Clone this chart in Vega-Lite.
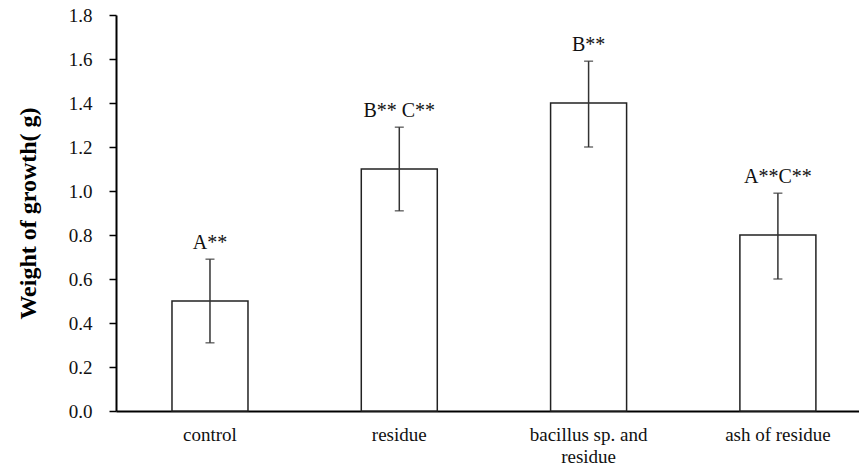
{
  "$schema": "https://vega.github.io/schema/vega-lite/v6.json",
  "width": 743,
  "height": 396,
  "autosize": {"type": "none"},
  "padding": {"left": 116, "top": 15, "right": 0, "bottom": 61},
  "background": "white",
  "config": {
    "view": {"stroke": null},
    "font": "Liberation Serif"
  },
  "data": {
    "values": [
      {"group": "control", "value": 0.5, "lower": 0.31, "upper": 0.69, "sig": "A**"},
      {"group": "residue", "value": 1.1, "lower": 0.91, "upper": 1.29, "sig": "B** C**"},
      {"group": "bacillus sp. and residue", "value": 1.4, "lower": 1.2, "upper": 1.59, "sig": "B**"},
      {"group": "ash of residue", "value": 0.8, "lower": 0.6, "upper": 0.99, "sig": "A**C**"}
    ]
  },
  "encoding": {
    "x": {
      "field": "group",
      "type": "nominal",
      "sort": null,
      "scale": {"paddingInner": 0.5985, "paddingOuter": 0.2617, "align": 0.565},
      "axis": {
        "title": null,
        "labelAngle": 0,
        "ticks": false,
        "domainColor": "#000",
        "domainWidth": 2,
        "labelFont": "Liberation Serif",
        "labelFontSize": 19,
        "labelColor": "#111",
        "labelPadding": 14,
        "labelLineHeight": 22,
        "labelExpr": "datum.label == 'bacillus sp. and residue' ? ['bacillus sp. and', 'residue'] : datum.label"
      }
    }
  },
  "layer": [
    {
      "mark": {"type": "bar", "fill": "white", "stroke": "#222", "strokeWidth": 1.5},
      "encoding": {
        "y": {
          "field": "value",
          "type": "quantitative",
          "scale": {"domain": [0, 1.8], "nice": false},
          "axis": {
            "title": "Weight of growth( g)",
            "titleFont": "Liberation Serif",
            "titleFontSize": 24,
            "titleFontWeight": "bold",
            "titleColor": "#000",
            "titlePadding": 28,
            "values": [0, 0.2, 0.4, 0.6, 0.8, 1.0, 1.2, 1.4, 1.6, 1.8],
            "format": ".1f",
            "grid": false,
            "domainColor": "#000",
            "domainWidth": 2,
            "tickColor": "#000",
            "tickWidth": 1.5,
            "tickSize": 7,
            "labelFont": "Liberation Serif",
            "labelFontSize": 19,
            "labelColor": "#111",
            "labelPadding": 17
          }
        }
      }
    },
    {
      "mark": {"type": "rule", "color": "#333", "strokeWidth": 1.5},
      "encoding": {
        "y": {"field": "lower", "type": "quantitative"},
        "y2": {"field": "upper"}
      }
    },
    {
      "mark": {"type": "tick", "color": "#333", "thickness": 1.5, "size": 9},
      "encoding": {"y": {"field": "lower", "type": "quantitative"}}
    },
    {
      "mark": {"type": "tick", "color": "#333", "thickness": 1.5, "size": 9},
      "encoding": {"y": {"field": "upper", "type": "quantitative"}}
    },
    {
      "mark": {"type": "text", "baseline": "alphabetic", "dy": -10, "font": "Liberation Serif", "fontSize": 20, "color": "#111"},
      "encoding": {
        "y": {"field": "upper", "type": "quantitative"},
        "text": {"field": "sig"}
      }
    }
  ]
}
